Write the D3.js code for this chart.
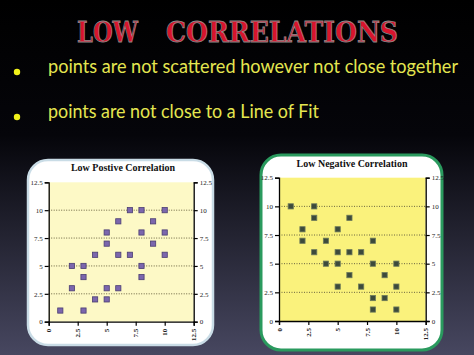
<!DOCTYPE html>
<html>
<head>
<meta charset="utf-8">
<script src="https://cdn.jsdelivr.net/npm/d3@7"></script>
<style>
  html, body { margin: 0; padding: 0; background: #000; }
  svg { display: block; }
</style>
</head>
<body>
<svg id="slide" width="474" height="355"></svg>
<script>
// values
const axisTicks = [0, 2.5, 5, 7.5, 10, 12.5];
const gridTicks = [2.5, 5, 7.5, 10];
const bullets = [
    "points are not scattered however not close together",
    "points are not close to a Line of Fit"
];
const positiveX = [1, 2, 2, 3, 3, 3, 4, 4, 5, 5, 5, 5, 6, 6, 6, 7, 7, 8, 8, 8, 8, 9, 9, 10, 10, 10];
const positiveY = [1, 3, 5, 5, 4, 1, 2, 6, 2, 3, 7, 8, 9, 6, 3, 10, 6, 10, 8, 5, 4, 9, 7, 10, 8, 6];
const negativeX = [1, 3, 3, 2, 2, 3, 4, 4, 5, 5, 5, 5, 6, 6, 6, 7, 7, 8, 8, 8, 8, 9, 9, 10, 10, 10];
const negativeY = [10, 10, 9, 8, 7, 6, 7, 5, 8, 6, 5, 3, 9, 6, 4, 6, 3, 7, 5, 2, 1, 4, 2, 5, 3, 1];

const svg = d3.select("#slide");

// background fade from black to dark slate
const defs = svg.append("defs");
const bg = defs.append("linearGradient")
    .attr("id", "bg").attr("x1", 0).attr("y1", 0).attr("x2", 0).attr("y2", 1);
bg.append("stop").attr("offset", "0%").attr("stop-color", "#000000");
bg.append("stop").attr("offset", "38%").attr("stop-color", "#05050a");
bg.append("stop").attr("offset", "100%").attr("stop-color", "#474760");
svg.append("rect").attr("width", 474).attr("height", 355).attr("fill", "url(#bg)");

// heading
const heading = svg.append("g")
    .style("font-family", "'DejaVu Serif', serif")
    .style("font-weight", "bold")
    .style("font-size", "28px")
    .attr("fill", "#d8142c")
    .attr("stroke", "#8a8a8a")
    .attr("stroke-width", 0.8);
heading.append("text").attr("x", 77).attr("y", 42)
    .attr("textLength", 61).attr("lengthAdjust", "spacingAndGlyphs").text("LOW");
heading.append("text").attr("x", 166).attr("y", 42)
    .attr("textLength", 232).attr("lengthAdjust", "spacingAndGlyphs").text("CORRELATIONS");

// bullet lines
const lineY = [73, 118];
const lineW = [410, 271];
bullets.forEach((t, i) => {
    svg.append("circle").attr("cx", 17).attr("cy", lineY[i] - 1).attr("r", 3.2).attr("fill", "#f2f21a");
    svg.append("text")
        .attr("x", 48).attr("y", lineY[i])
        .attr("textLength", lineW[i]).attr("lengthAdjust", "spacingAndGlyphs")
        .style("font-family", "Lato, sans-serif")
        .style("font-size", "18.5px")
        .attr("fill", "#e4e650")
        .text(t);
});

// one scatter panel
function drawChart(opt) {
    const g = svg.append("g");

    // rounded white card
    g.append("rect")
        .attr("x", opt.panel[0]).attr("y", opt.panel[1])
        .attr("width", opt.panel[2]).attr("height", opt.panel[3])
        .attr("rx", 20).attr("ry", 20)
        .attr("fill", "#ffffff")
        .attr("stroke", opt.border).attr("stroke-width", opt.borderWidth);

    const x = d3.scaleLinear().domain([0, 12.5]).range([opt.plot[0], opt.plot[1]]);
    const y = d3.scaleLinear().domain([0, 12.5]).range([opt.plot[3], opt.plot[2]]);

    // plot background
    g.append("rect")
        .attr("x", x(0)).attr("y", y(12.5))
        .attr("width", x(12.5) - x(0)).attr("height", y(0) - y(12.5))
        .attr("fill", opt.plotFill);

    // dotted gridlines
    g.selectAll(".grid")
        .data(gridTicks)
        .join("line")
        .attr("x1", x(0)).attr("x2", x(12.5))
        .attr("y1", d => y(d)).attr("y2", d => y(d))
        .attr("stroke", "#6a6440").attr("stroke-width", 1)
        .attr("stroke-dasharray", "1,1.5");

    // title
    g.append("text")
        .attr("x", opt.titleX).attr("y", opt.titleY)
        .attr("text-anchor", "middle")
        .style("font-family", "'Liberation Serif', serif")
        .style("font-weight", "bold")
        .style("font-size", "10px")
        .attr("fill", "#111")
        .text(opt.title);

    const fmt = d => String(d);

    // axes
    const left = g.append("g")
        .attr("transform", `translate(${x(0)},0)`)
        .call(d3.axisLeft(y).tickValues(axisTicks).tickFormat(fmt).tickSize(4).tickPadding(2));
    const right = g.append("g")
        .attr("transform", `translate(${x(12.5)},0)`)
        .call(d3.axisRight(y).tickValues(axisTicks).tickFormat(fmt).tickSize(4).tickPadding(2));
    const bottom = g.append("g")
        .attr("transform", `translate(0,${y(0)})`)
        .call(d3.axisBottom(x).tickValues(axisTicks).tickFormat(fmt).tickSize(4).tickPadding(2));

    bottom.selectAll("text")
        .attr("transform", "rotate(-90)")
        .attr("text-anchor", "end")
        .attr("x", -7).attr("y", 0).attr("dy", "0.32em")
        .style("font-weight", "bold");

    [left, right, bottom].forEach(a => {
        a.select(".domain").attr("stroke", "#000").attr("stroke-width", 1.3);
        a.selectAll(".tick line").attr("stroke", "#000").attr("stroke-width", 1.2);
        a.selectAll("text")
            .style("font-family", "'Liberation Serif', serif")
            .style("font-size", "7px")
            .attr("fill", "#222");
    });

    // the points
    const s = 5.2;
    g.selectAll(".pt")
        .data(opt.xs.map((v, i) => [v, opt.ys[i]]))
        .join("rect")
        .attr("x", d => x(d[0]) - s / 2)
        .attr("y", d => y(d[1]) - s / 2)
        .attr("width", s).attr("height", s)
        .attr("fill", opt.markFill)
        .attr("stroke", opt.markStroke).attr("stroke-width", 0.8);
}

drawChart({
    title: "Low Postive Correlation",
    titleX: 123, titleY: 171,
    panel: [28, 160, 185, 185],
    plot: [48.7, 193.7, 182.3, 321.7],
    border: "#c9dce6", borderWidth: 2.5,
    plotFill: "#fdf9c6",
    markFill: "#7b66ad", markStroke: "#4a3d72",
    xs: positiveX, ys: positiveY
});

drawChart({
    title: "Low Negative Correlation",
    titleX: 352, titleY: 167,
    panel: [261, 155, 181, 195],
    plot: [279, 425.7, 177.7, 321],
    border: "#2a9a5e", borderWidth: 3,
    plotFill: "#faf27c",
    markFill: "#3c4a3c", markStroke: "#6d7a5a",
    xs: negativeX, ys: negativeY
});
</script>
</body>
</html>
